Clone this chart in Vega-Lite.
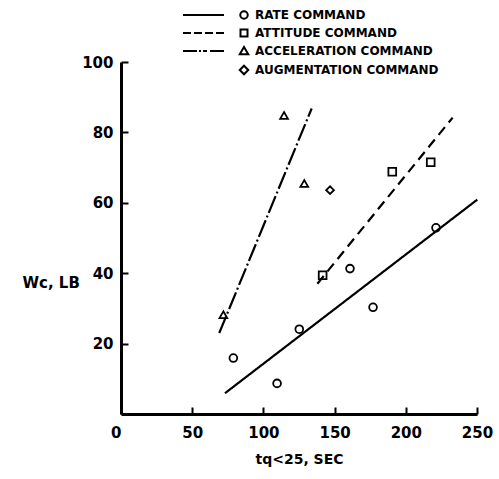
{
  "$schema": "https://vega.github.io/schema/vega-lite/v6.json",
  "autosize": {"type": "none"},
  "padding": {"left": 121, "top": 62, "right": 22, "bottom": 65},
  "width": 356,
  "height": 352,
  "background": "white",
  "config": {
    "view": {"stroke": null},
    "font": "DejaVu Sans",
    "axis": {
      "domainColor": "black", "domainWidth": 3, "tickColor": "black", "tickWidth": 2,
      "tickSize": -7, "grid": false, "labelColor": "black", "titleColor": "black",
      "labelFont": "DejaVu Sans", "labelFontWeight": "bold", "labelFontSize": 15,
      "titleFont": "DejaVu Sans", "titleFontWeight": "bold", "titleFontSize": 14
    }
  },
  "datasets": {
    "pts": [
      {"series": "RATE COMMAND", "t": 78.9, "w": 15.9},
      {"series": "RATE COMMAND", "t": 109.6, "w": 8.7},
      {"series": "RATE COMMAND", "t": 125.2, "w": 24.1},
      {"series": "RATE COMMAND", "t": 160.8, "w": 41.3},
      {"series": "RATE COMMAND", "t": 177.0, "w": 30.3},
      {"series": "RATE COMMAND", "t": 221.2, "w": 52.9},
      {"series": "ATTITUDE COMMAND", "t": 141.6, "w": 39.4},
      {"series": "ATTITUDE COMMAND", "t": 190.5, "w": 68.8},
      {"series": "ATTITUDE COMMAND", "t": 217.5, "w": 71.5},
      {"series": "ACCELERATION COMMAND", "t": 71.9, "w": 28.2},
      {"series": "ACCELERATION COMMAND", "t": 114.5, "w": 84.8},
      {"series": "ACCELERATION COMMAND", "t": 128.7, "w": 65.5},
      {"series": "AUGMENTATION COMMAND", "t": 146.8, "w": 63.6}
    ],
    "fits": [
      {"series": "RATE COMMAND", "t": 73.0, "w": 5.9},
      {"series": "RATE COMMAND", "t": 250.2, "w": 60.9},
      {"series": "ATTITUDE COMMAND", "t": 137.9, "w": 37.0},
      {"series": "ATTITUDE COMMAND", "t": 232.9, "w": 84.2},
      {"series": "ACCELERATION COMMAND", "t": 69.0, "w": 23.0},
      {"series": "ACCELERATION COMMAND", "t": 133.9, "w": 86.8}
    ]
  },
  "layer": [
    {
      "data": {"name": "fits"},
      "mark": {"type": "line", "color": "black", "strokeWidth": 2.2, "clip": false},
      "encoding": {
        "x": {"field": "t", "type": "quantitative", "scale": {"domain": [0, 250], "nice": false},
          "axis": {"values": [0, 50, 100, 150, 200, 250], "title": "tq<25, SEC", "titlePadding": 12,
            "labelPadding": 18,
            "labelAlign": {"condition": {"test": "datum.value == 0", "value": "right"}, "value": "center"}}},
        "y": {"field": "w", "type": "quantitative", "scale": {"domain": [0, 100], "nice": false},
          "axis": {"values": [20, 40, 60, 80, 100], "title": "Wc, LB", "titleAngle": 0, "titleFontSize": 15,
            "titleAlign": "left", "titleBaseline": "middle", "titleX": -99, "titleY": 220, "labelPadding": 15}},
        "detail": {"field": "series"},
        "strokeDash": {"field": "series", "type": "nominal", "legend": null,
          "scale": {"domain": ["RATE COMMAND", "ATTITUDE COMMAND", "ACCELERATION COMMAND"],
            "range": [[1, 0], [10, 6], [18, 3, 2, 3]]}}
      }
    },
    {
      "data": {"name": "pts"},
      "mark": {"type": "point", "filled": false, "color": "black", "strokeWidth": 1.8, "size": 60, "opacity": 1},
      "encoding": {
        "x": {"field": "t", "type": "quantitative"},
        "y": {"field": "w", "type": "quantitative"},
        "shape": {"field": "series", "type": "nominal", "legend": null,
          "scale": {"domain": ["RATE COMMAND", "ATTITUDE COMMAND", "ACCELERATION COMMAND", "AUGMENTATION COMMAND"],
            "range": ["circle", "square", "triangle-up", "diamond"]}}
      }
    },
    {
      "data": {"name": "pts"},
      "mark": {"type": "point", "filled": false, "color": "black", "strokeWidth": 1.8, "opacity": 0},
      "encoding": {
        "x": {"field": "t", "type": "quantitative"},
        "y": {"field": "w", "type": "quantitative"},
        "shape": {"field": "series", "type": "nominal",
          "scale": {"domain": ["RATE COMMAND", "ATTITUDE COMMAND", "ACCELERATION COMMAND", "AUGMENTATION COMMAND"],
            "range": [
              "M-12.2,0L-4,0M0.75,0A0.75,0.75,0,1,1,-0.75,0A0.75,0.75,0,1,1,0.75,0Z",
              "M-12.2,0L-10.6,0M-10,0L-8.4,0M-7.8,0L-6.2,0M-5.6,0L-4,0M-0.7,-0.7L0.7,-0.7L0.7,0.7L-0.7,0.7Z",
              "M-12.2,0L-9.4,0M-9,0L-8.6,0M-8.2,0L-7.4,0M-6.8,0L-4,0M0,-0.8L0.85,0.65L-0.85,0.65Z",
              "M0,-0.85L0.85,0L0,0.85L-0.85,0Z"
            ]},
          "legend": {"title": null, "orient": "none", "legendX": 117, "legendY": -53,
            "symbolOpacity": 1, "symbolStrokeColor": "black", "symbolFillColor": "transparent",
            "symbolStrokeWidth": 2, "labelFont": "DejaVu Sans", "labelFontWeight": "bold",
            "labelFontSize": 12, "labelColor": "black", "rowPadding": 2, "labelOffset": 5, "labelLimit": 0}},
        "size": {"value": 25}
      }
    }
  ],
  "resolve": {"scale": {"shape": "independent"}}
}
